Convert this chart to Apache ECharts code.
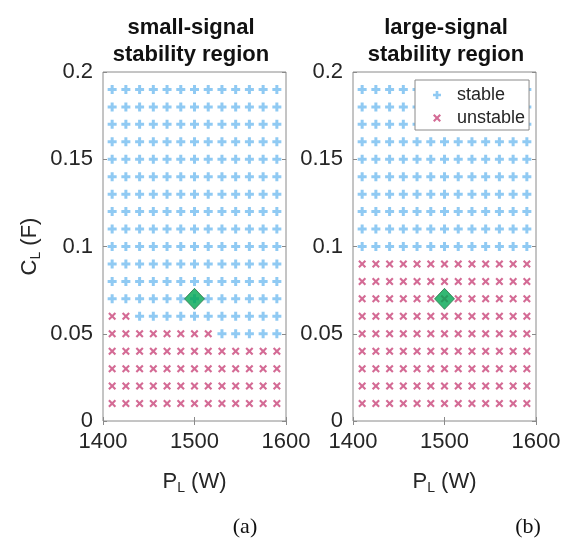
<!DOCTYPE html>
<html>
<head>
<meta charset="utf-8">
<script src="https://cdn.jsdelivr.net/npm/echarts@6/dist/echarts.min.js"></script>
<style>html,body{margin:0;padding:0;background:#fff}#c{width:570px;height:538px}</style>
</head>
<body>
<div id="c"></div>
<script>
// Load power P_L (W) grid columns
const pValues = [1410, 1425, 1440, 1455, 1470, 1485, 1500, 1515, 1530, 1545, 1560, 1575, 1590];
// Capacitance C_L (F) grid rows (top to bottom)
const cValues = [0.19, 0.18, 0.17, 0.16, 0.15, 0.14, 0.13, 0.12, 0.11, 0.10, 0.09, 0.08, 0.07, 0.06, 0.05, 0.04, 0.03, 0.02, 0.01];
// '+' = stable, 'x' = unstable, one string per row matching cValues
const smallSignalMap = [
  '+++++++++++++', '+++++++++++++', '+++++++++++++', '+++++++++++++', '+++++++++++++',
  '+++++++++++++', '+++++++++++++', '+++++++++++++', '+++++++++++++', '+++++++++++++',
  '+++++++++++++', '+++++++++++++', '+++++++++++++', 'xx+++++++++++', 'xxxxxxxx+++++',
  'xxxxxxxxxxxxx', 'xxxxxxxxxxxxx', 'xxxxxxxxxxxxx', 'xxxxxxxxxxxxx'
];
const largeSignalMap = [
  '+++++++++++++', '+++++++++++++', '+++++++++++++', '+++++++++++++', '+++++++++++++',
  '+++++++++++++', '+++++++++++++', '+++++++++++++', '+++++++++++++', '+++++++++++++',
  'xxxxxxxxxxxxx', 'xxxxxxxxxxxxx', 'xxxxxxxxxxxxx', 'xxxxxxxxxxxxx', 'xxxxxxxxxxxxx',
  'xxxxxxxxxxxxx', 'xxxxxxxxxxxxx', 'xxxxxxxxxxxxx', 'xxxxxxxxxxxxx'
];
// Operating point
const operatingPoint = [1500, 0.07];
const xTicks = [1400, 1500, 1600];
const yTicks = [0, 0.05, 0.1, 0.15, 0.2];
const titles = ['small-signal\nstability region', 'large-signal\nstability region'];
const panelLabels = ['(a)', '(b)'];

function split(map) {
  const st = [], un = [];
  map.forEach((row, r) => {
    for (let i = 0; i < row.length; i++) {
      const pt = [pValues[i], cValues[r]];
      if (row[i] === '+') st.push(pt); else un.push(pt);
    }
  });
  return {st, un};
}
const small = split(smallSignalMap);
const large = split(largeSignalMap);

const PLUS = 'path://M3,0H6V3H9V6H6V9H3V6H0V3H3Z';
const CROSS = 'path://M0,1.5L1.5,0L4,2.5L6.5,0L8,1.5L5.5,4L8,6.5L6.5,8L4,5.5L1.5,8L0,6.5L2.5,4Z';
const BLUE = '#74BDF0';
const RED = '#C9467B';
const FONT = 'Liberation Sans';
const TXT = '#262626';
const AX = '#8a8a8a';

const gridsLeft = [103, 353];
const gridW = 183, gridTop = 72, gridH = 349;
const titleCenters = [186, 441];

const nameRich = {
  a: {fontSize: 22, color: TXT, fontFamily: FONT},
  b: {fontSize: 14, color: TXT, fontFamily: FONT, verticalAlign: 'bottom', padding: [13, 0, 0, 0]}
};

const grids = [], xAxes = [], yAxes = [], series = [], titleComps = [];
[small, large].forEach((d, g) => {
  grids.push({left: gridsLeft[g], top: gridTop, width: gridW, height: gridH, show: true, borderColor: AX, borderWidth: 1, backgroundColor: '#fff'});
  const xBase = {
    gridIndex: g, type: 'value', min: xTicks[0], max: xTicks[xTicks.length - 1], interval: 100,
    splitLine: {show: false}, axisLine: {show: false},
    axisTick: {show: true, inside: true, length: 4, lineStyle: {color: AX}}
  };
  xAxes.push(Object.assign({}, xBase, {
    position: 'bottom',
    axisLabel: {fontSize: 22, color: TXT, fontFamily: FONT, margin: 10, formatter: v => String(v)},
    name: '{a|P}{b|L}{a| (W)}', nameLocation: 'middle', nameGap: 47,
    nameTextStyle: {rich: nameRich}
  }));
  xAxes.push(Object.assign({}, xBase, {position: 'top', axisLabel: {show: false}}));
  const yBase = {
    gridIndex: g, type: 'value', min: yTicks[0], max: yTicks[yTicks.length - 1], interval: 0.05,
    splitLine: {show: false}, axisLine: {show: false},
    axisTick: {show: true, inside: true, length: 4, lineStyle: {color: AX}}
  };
  const yMain = Object.assign({}, yBase, {
    position: 'left',
    axisLabel: {fontSize: 22, color: TXT, fontFamily: FONT, margin: 10, formatter: v => String(v)}
  });
  if (g === 0) {
    yMain.name = '{a|C}{b|L}{a| (F)}';
    yMain.nameLocation = 'middle';
    yMain.nameGap = 60;
    yMain.nameTextStyle = {rich: nameRich};
  }
  yAxes.push(yMain);
  yAxes.push(Object.assign({}, yBase, {position: 'right', axisLabel: {show: false}}));

  series.push({
    name: 'stable', type: 'scatter', xAxisIndex: g * 2, yAxisIndex: g * 2,
    symbol: PLUS, symbolSize: 9, itemStyle: {color: BLUE}, data: d.st, silent: true, z: 2
  });
  series.push({
    name: 'unstable', type: 'scatter', xAxisIndex: g * 2, yAxisIndex: g * 2,
    symbol: CROSS, symbolSize: 8, itemStyle: {color: RED}, data: d.un, silent: true, z: 2
  });
  series.push({
    name: 'operating point', type: 'scatter', xAxisIndex: g * 2, yAxisIndex: g * 2,
    symbol: 'diamond', symbolSize: [20, 21], itemStyle: {color: '#00A651', borderColor: '#1b5a32', borderWidth: 0.8},
    data: [operatingPoint], silent: true, z: 5
  });
  titleComps.push({
    text: titles[g], left: titleCenters[g], top: 9, textAlign: 'center',
    textStyle: {fontSize: 22, fontWeight: 'bold', color: '#111', fontFamily: FONT, lineHeight: 27}
  });
});

const chart = echarts.init(document.getElementById('c'), null, {renderer: 'canvas'});
chart.setOption({
  backgroundColor: '#fff',
  animation: false,
  title: titleComps,
  grid: grids,
  xAxis: xAxes,
  yAxis: yAxes,
  legend: {
    data: [{name: 'stable'}, {name: 'unstable'}],
    orient: 'vertical', left: 415, top: 80,
    backgroundColor: '#fff', borderColor: '#8a8a8a', borderWidth: 1, borderRadius: 0,
    padding: [6, 4, 3, 18], itemGap: 5, itemWidth: 30, itemHeight: 8,
    textStyle: {fontSize: 18, color: TXT, fontFamily: FONT},
    selectedMode: false
  },
  series: series,
  graphic: panelLabels.map((t, i) => ({
    type: 'text', x: [245, 528][i], y: 527,
    style: {text: t, font: '22px "Liberation Serif"', fill: '#111', textAlign: 'center', textVerticalAlign: 'middle'}
  }))
});
</script>
</body>
</html>
